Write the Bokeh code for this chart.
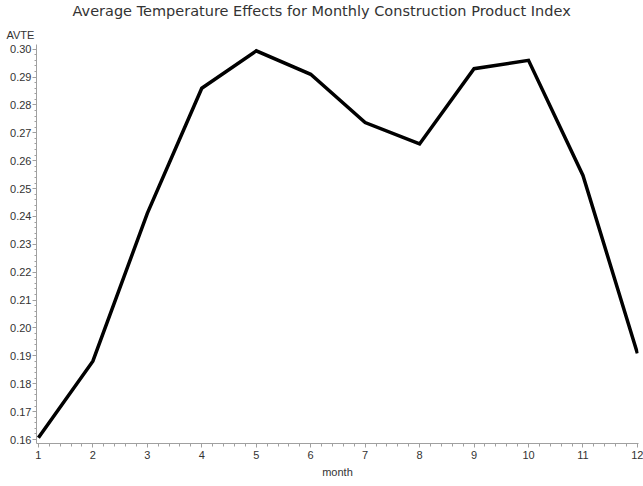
from bokeh.plotting import figure
from bokeh.models import FixedTicker, NumeralTickFormatter, Title, Range1d
from bokeh.embed import file_html
from bokeh.resources import INLINE

# data
months = [1, 2, 3, 4, 5, 6, 7, 8, 9, 10, 11, 12]
avte = [0.1606, 0.1881, 0.2411, 0.2860, 0.2994, 0.2910,
        0.2737, 0.2660, 0.2930, 0.2960, 0.2547, 0.1909]
y_tick_values = [0.16, 0.17, 0.18, 0.19, 0.20, 0.21, 0.22, 0.23,
                 0.24, 0.25, 0.26, 0.27, 0.28, 0.29, 0.30]
x_tick_values = months

title_text = "Average Temperature Effects for Monthly Construction Product Index"
y_label = "AVTE"
x_label = "month"

FONT = "Liberation Sans"
TFONT = "DejaVu Sans"
TXT = "#333333"
AX = "#a0a0a0"

p = figure(width=643, height=486, output_backend="svg", toolbar_location=None,
           x_range=Range1d(0.965, 12.02), y_range=Range1d(0.15857, 0.30168),
           min_border_left=36, min_border_right=5, min_border_top=43,
           min_border_bottom=43, title=None)

# y-axis name shown above the axis (closest to the frame)
p.add_layout(Title(text=y_label, align="left", offset=-30, standoff=8,
                   text_font=FONT, text_font_size="11px", text_font_style="normal",
                   text_color=TXT), "above")
# main title (outermost)
p.add_layout(Title(text=title_text, align="left", offset=36, standoff=4,
                   vertical_align="top",
                   text_font=TFONT, text_font_size="14.5px", text_font_style="normal",
                   text_color=TXT), "above")

p.line(months, avte, line_width=3.5, line_color="black", line_join="miter")

p.grid.visible = False
p.outline_line_color = None

def minors(ticks, n=5):
    out = []
    for a, b in zip(ticks[:-1], ticks[1:]):
        step = (b - a) / n
        out.extend(a + step * k for k in range(1, n))
    return out

p.xaxis.ticker = FixedTicker(ticks=x_tick_values, minor_ticks=minors(x_tick_values))
p.yaxis.ticker = FixedTicker(ticks=y_tick_values, minor_ticks=minors(y_tick_values))
p.yaxis.formatter = NumeralTickFormatter(format="0.00")

for ax in (p.xaxis, p.yaxis):
    ax.axis_line_color = AX
    ax.major_tick_line_color = AX
    ax.minor_tick_line_color = AX
    ax.major_tick_in = 0
    ax.minor_tick_in = 0
    ax.major_label_text_font = FONT
    ax.major_label_text_font_size = "11px"
    ax.major_label_text_color = TXT

p.xaxis.major_tick_out = 4
p.xaxis.minor_tick_out = 3
p.xaxis.major_label_standoff = 3
p.xaxis.axis_label = x_label
p.xaxis.axis_label_text_font = FONT
p.xaxis.axis_label_text_font_size = "11px"
p.xaxis.axis_label_text_font_style = "normal"
p.xaxis.axis_label_text_color = TXT
p.xaxis.axis_label_standoff = 4

p.yaxis.major_tick_out = 4
p.yaxis.minor_tick_out = 2
p.yaxis.major_label_standoff = 1

open("out.html", "w").write(file_html(p, INLINE))
